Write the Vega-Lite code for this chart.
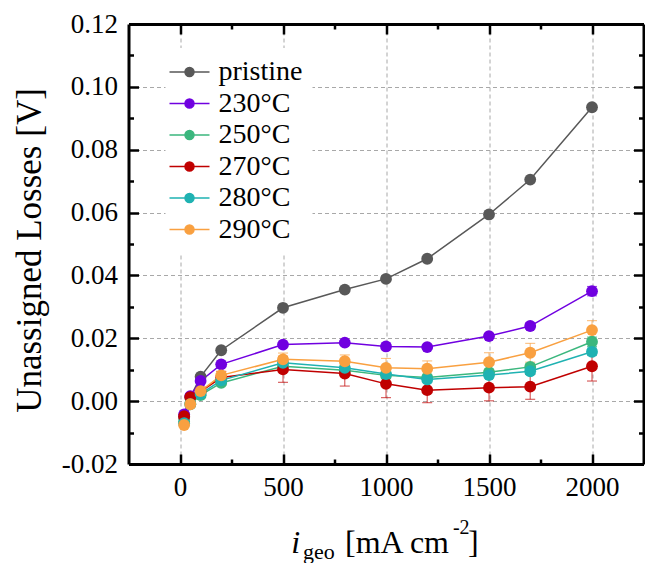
{
  "$schema": "https://vega.github.io/schema/vega-lite/v6.json",
  "width": 515,
  "height": 440,
  "autosize": "none",
  "padding": {"left": 128.5, "top": 24, "right": 1.5, "bottom": 99},
  "config": {
    "view": {"stroke": null},
    "font": "Liberation Serif, Times New Roman, serif",
    "axis": {"labelFont": "Liberation Serif, Times New Roman, serif", "titleFont": "Liberation Serif, Times New Roman, serif"},
    "legend": {"labelFont": "Liberation Serif, Times New Roman, serif", "titleFont": "Liberation Serif, Times New Roman, serif"},
    "text": {"font": "Liberation Serif, Times New Roman, serif"},
    "style": {
      "guide-label": {"font": "Liberation Serif, Times New Roman, serif"},
      "guide-title": {"font": "Liberation Serif, Times New Roman, serif"}
    }
  },
  "datasets": {
    "series": [
      {"s": "pristine", "i": 20, "v": -0.0052, "e": 0.0005},
      {"s": "pristine", "i": 50, "v": 0.0012, "e": 0.0005},
      {"s": "pristine", "i": 100, "v": 0.0078, "e": 0.0005},
      {"s": "pristine", "i": 200, "v": 0.0162, "e": 0.0005},
      {"s": "pristine", "i": 500, "v": 0.0297, "e": 0.0005},
      {"s": "pristine", "i": 800, "v": 0.0355, "e": 0.0005},
      {"s": "pristine", "i": 1000, "v": 0.0389, "e": 0.0005},
      {"s": "pristine", "i": 1200, "v": 0.0453, "e": 0.0005},
      {"s": "pristine", "i": 1500, "v": 0.0594, "e": 0.0005},
      {"s": "pristine", "i": 1700, "v": 0.0705, "e": 0.0005},
      {"s": "pristine", "i": 2000, "v": 0.0935, "e": 0.0005},
      {"s": "230°C", "i": 20, "v": -0.0042, "e": 0.0005},
      {"s": "230°C", "i": 50, "v": 0.0016, "e": 0.0005},
      {"s": "230°C", "i": 100, "v": 0.0064, "e": 0.0005},
      {"s": "230°C", "i": 200, "v": 0.0117, "e": 0.0005},
      {"s": "230°C", "i": 500, "v": 0.018, "e": 0.0006},
      {"s": "230°C", "i": 800, "v": 0.0186, "e": 0.0006},
      {"s": "230°C", "i": 1000, "v": 0.0174, "e": 0.0006},
      {"s": "230°C", "i": 1200, "v": 0.0172, "e": 0.0006},
      {"s": "230°C", "i": 1500, "v": 0.0207, "e": 0.0008},
      {"s": "230°C", "i": 1700, "v": 0.0239, "e": 0.001},
      {"s": "230°C", "i": 2000, "v": 0.035, "e": 0.0015},
      {"s": "250°C", "i": 20, "v": -0.0065, "e": 0.0005},
      {"s": "250°C", "i": 50, "v": -0.0008, "e": 0.0005},
      {"s": "250°C", "i": 100, "v": 0.0019, "e": 0.0005},
      {"s": "250°C", "i": 200, "v": 0.0058, "e": 0.0008},
      {"s": "250°C", "i": 500, "v": 0.0111, "e": 0.001},
      {"s": "250°C", "i": 800, "v": 0.0098, "e": 0.001},
      {"s": "250°C", "i": 1000, "v": 0.0082, "e": 0.001},
      {"s": "250°C", "i": 1200, "v": 0.0075, "e": 0.001},
      {"s": "250°C", "i": 1500, "v": 0.0092, "e": 0.001},
      {"s": "250°C", "i": 1700, "v": 0.0109, "e": 0.001},
      {"s": "250°C", "i": 2000, "v": 0.0189, "e": 0.0015},
      {"s": "270°C", "i": 20, "v": -0.0048, "e": 0.001},
      {"s": "270°C", "i": 50, "v": 0.0013, "e": 0.001},
      {"s": "270°C", "i": 100, "v": 0.003, "e": 0.0015},
      {"s": "270°C", "i": 200, "v": 0.0075, "e": 0.002},
      {"s": "270°C", "i": 500, "v": 0.0101, "e": 0.0041},
      {"s": "270°C", "i": 800, "v": 0.0088, "e": 0.004},
      {"s": "270°C", "i": 1000, "v": 0.0055, "e": 0.0044},
      {"s": "270°C", "i": 1200, "v": 0.0035, "e": 0.004},
      {"s": "270°C", "i": 1500, "v": 0.0043, "e": 0.0042},
      {"s": "270°C", "i": 1700, "v": 0.0046, "e": 0.004},
      {"s": "270°C", "i": 2000, "v": 0.0111, "e": 0.0047},
      {"s": "280°C", "i": 20, "v": -0.007, "e": 0.0005},
      {"s": "280°C", "i": 50, "v": -0.001, "e": 0.0005},
      {"s": "280°C", "i": 100, "v": 0.0023, "e": 0.0005},
      {"s": "280°C", "i": 200, "v": 0.0066, "e": 0.0008},
      {"s": "280°C", "i": 500, "v": 0.0122, "e": 0.001},
      {"s": "280°C", "i": 800, "v": 0.0106, "e": 0.001},
      {"s": "280°C", "i": 1000, "v": 0.0086, "e": 0.001},
      {"s": "280°C", "i": 1200, "v": 0.0069, "e": 0.001},
      {"s": "280°C", "i": 1500, "v": 0.0083, "e": 0.001},
      {"s": "280°C", "i": 1700, "v": 0.0095, "e": 0.001},
      {"s": "280°C", "i": 2000, "v": 0.0157, "e": 0.0012},
      {"s": "290°C", "i": 20, "v": -0.0076, "e": 0.0005},
      {"s": "290°C", "i": 50, "v": -0.001, "e": 0.0008},
      {"s": "290°C", "i": 100, "v": 0.0032, "e": 0.001},
      {"s": "290°C", "i": 200, "v": 0.0082, "e": 0.0012},
      {"s": "290°C", "i": 500, "v": 0.0133, "e": 0.002},
      {"s": "290°C", "i": 800, "v": 0.0127, "e": 0.002},
      {"s": "290°C", "i": 1000, "v": 0.0106, "e": 0.003},
      {"s": "290°C", "i": 1200, "v": 0.0103, "e": 0.0025},
      {"s": "290°C", "i": 1500, "v": 0.0124, "e": 0.003},
      {"s": "290°C", "i": 1700, "v": 0.0154, "e": 0.003},
      {"s": "290°C", "i": 2000, "v": 0.0226, "e": 0.003}
    ]
  },
  "resolve": {"axis": {"x": "independent", "y": "independent"}},
  "layer": [
    {
      "data": {"name": "series"},
      "mark": {"type": "errorbar", "ticks": true, "size": 10, "thickness": 1, "opacity": 0.75},
      "encoding": {
        "x": {"field": "i", "type": "quantitative", "axis": null,
              "scale": {"domain": [-250, 2250], "nice": false, "zero": false}},
        "y": {"field": "v", "type": "quantitative", "axis": null,
              "scale": {"domain": [-0.02, 0.12], "nice": false, "zero": false}},
        "yError": {"field": "e"},
        "color": {"field": "s", "type": "nominal",
                  "scale": {"domain": ["pristine", "230°C", "250°C", "270°C", "280°C", "290°C"],
                            "range": ["#585858", "#7000E0", "#3BB77E", "#C00000", "#1FB2B2", "#F9A040"]}}
      }
    },
    {
      "data": {"name": "series"},
      "mark": {"type": "line", "strokeWidth": 1.5},
      "encoding": {
        "x": {"field": "i", "type": "quantitative",
              "scale": {"domain": [-250, 2250], "nice": false, "zero": false},
              "axis": {
                "orient": "bottom",
                "values": [0, 250, 500, 750, 1000, 1250, 1500, 1750, 2000],
                "labelExpr": "datum.value % 500 === 0 ? datum.label : ''",
                "format": "d",
                "labelFont": "Liberation Serif, Times New Roman, serif", "labelFontSize": 27, "labelColor": "black",
                "labelPadding": 20, "labelFlush": false,
                "tickColor": "black", "tickWidth": 2.5,
                "tickSize": {"condition": {"test": "datum.value % 500 === 0", "value": -10}, "value": -5},
                "domainColor": "black", "domainWidth": 3,
                "grid": true, "gridColor": "#a8a8a8", "gridDash": [4, 3], "gridWidth": 1,
                "gridOpacity": {"condition": {"test": "datum.value % 500 === 0", "value": 1}, "value": 0},
                "title": null
              }},
        "y": {"field": "v", "type": "quantitative",
              "scale": {"domain": [-0.02, 0.12], "nice": false, "zero": false},
              "axis": {
                "orient": "left",
                "values": [-0.02, -0.01, 0, 0.01, 0.02, 0.03, 0.04, 0.05, 0.06, 0.07, 0.08, 0.09, 0.1, 0.11, 0.12],
                "labelExpr": "abs(round(datum.value * 100)) % 2 === 0 ? replace(format(datum.value, '.2f'), '\u2212', '-') : ''",
                "labelFont": "Liberation Serif, Times New Roman, serif", "labelFontSize": 27, "labelColor": "black",
                "labelPadding": 21, "labelFlush": false,
                "tickColor": "black", "tickWidth": 2.5,
                "tickSize": {"condition": {"test": "abs(round(datum.value * 100)) % 2 === 0", "value": -10}, "value": -5},
                "domainColor": "black", "domainWidth": 3,
                "grid": true, "gridColor": "#a8a8a8", "gridDash": [4, 3], "gridWidth": 1,
                "gridOpacity": {"condition": {"test": "abs(round(datum.value * 100)) % 2 === 0 && datum.value > -0.015 && datum.value < 0.115", "value": 1}, "value": 0},
                "title": "Unassigned Losses [V]",
                "titleFont": "Liberation Serif, Times New Roman, serif", "titleFontSize": 35, "titleFontWeight": "normal", "titleColor": "black",
                "titleAngle": 270, "titleAlign": "center", "titleBaseline": "alphabetic",
                "titleX": -88, "titleY": 226
              }},
        "color": {"field": "s", "type": "nominal",
                  "scale": {"domain": ["pristine", "230°C", "250°C", "270°C", "280°C", "290°C"],
                            "range": ["#585858", "#7000E0", "#3BB77E", "#C00000", "#1FB2B2", "#F9A040"]},
                  "legend": {
                    "title": null,
                    "orient": "none",
                    "legendX": 37,
                    "legendY": 24,
                    "padding": 10,
                    "fillColor": "white",
                    "symbolType": "M-2,0H2M-0.45,0A0.45,0.45,0,1,1,0.45,0A0.45,0.45,0,1,1,-0.45,0Z",
                    "symbolSize": 400,
                    "symbolStrokeWidth": 1.5,
                    "labelFont": "Liberation Serif, Times New Roman, serif", "labelFontSize": 28, "labelColor": "black",
                    "labelOffset": 15,
                    "rowPadding": 3.5,
                    "encode": {
                      "symbols": {"update": {
                        "fill": {"scale": "color", "field": "value"},
                        "stroke": {"scale": "color", "field": "value"},
                        "strokeWidth": {"value": 1.5},
                        "opacity": {"value": 1}
                      }}
                    }
                  }}
      }
    },
    {
      "data": {"name": "series"},
      "mark": {"type": "circle", "size": 140, "opacity": 1},
      "encoding": {
        "x": {"field": "i", "type": "quantitative",
              "scale": {"domain": [-250, 2250], "nice": false, "zero": false},
              "axis": {
                "orient": "top",
                "values": [0, 250, 500, 750, 1000, 1250, 1500, 1750, 2000],
                "labels": false, "grid": false, "title": null,
                "tickColor": "black", "tickWidth": 2.5,
                "tickSize": {"condition": {"test": "datum.value % 500 === 0", "value": -10}, "value": -5},
                "domainColor": "black", "domainWidth": 3
              }},
        "y": {"field": "v", "type": "quantitative",
              "scale": {"domain": [-0.02, 0.12], "nice": false, "zero": false},
              "axis": {
                "orient": "right",
                "values": [-0.02, -0.01, 0, 0.01, 0.02, 0.03, 0.04, 0.05, 0.06, 0.07, 0.08, 0.09, 0.1, 0.11, 0.12],
                "labels": false, "grid": false, "title": null,
                "tickColor": "black", "tickWidth": 2.5,
                "tickSize": {"condition": {"test": "abs(round(datum.value * 100)) % 2 === 0", "value": -10}, "value": -5},
                "domainColor": "black", "domainWidth": 3
              }},
        "color": {"field": "s", "type": "nominal",
                  "scale": {"domain": ["pristine", "230°C", "250°C", "270°C", "280°C", "290°C"],
                            "range": ["#585858", "#7000E0", "#3BB77E", "#C00000", "#1FB2B2", "#F9A040"]}}
      }
    },
    {
      "data": {"values": [{}]},
      "mark": {"type": "text", "text": "i", "font": "Liberation Serif, Times New Roman, serif", "fontStyle": "italic", "fontSize": 32,
               "align": "left", "baseline": "alphabetic", "color": "black"},
      "encoding": {
        "x": {"datum": 540, "type": "quantitative", "axis": null},
        "y": {"datum": -0.0483, "type": "quantitative", "axis": null}
      }
    },
    {
      "data": {"values": [{}]},
      "mark": {"type": "text", "text": "geo", "font": "Liberation Serif, Times New Roman, serif", "fontSize": 22,
               "align": "left", "baseline": "alphabetic", "color": "black"},
      "encoding": {
        "x": {"datum": 597, "type": "quantitative", "axis": null},
        "y": {"datum": -0.0502, "type": "quantitative", "axis": null}
      }
    },
    {
      "data": {"values": [{}]},
      "mark": {"type": "text", "text": "[mA cm", "font": "Liberation Serif, Times New Roman, serif", "fontSize": 32,
               "align": "left", "baseline": "alphabetic", "color": "black"},
      "encoding": {
        "x": {"datum": 801, "type": "quantitative", "axis": null},
        "y": {"datum": -0.0483, "type": "quantitative", "axis": null}
      }
    },
    {
      "data": {"values": [{}]},
      "mark": {"type": "text", "text": "-2", "font": "Liberation Serif, Times New Roman, serif", "fontSize": 20,
               "align": "left", "baseline": "alphabetic", "color": "black"},
      "encoding": {
        "x": {"datum": 1325, "type": "quantitative", "axis": null},
        "y": {"datum": -0.0423, "type": "quantitative", "axis": null}
      }
    },
    {
      "data": {"values": [{}]},
      "mark": {"type": "text", "text": "]", "font": "Liberation Serif, Times New Roman, serif", "fontSize": 32,
               "align": "left", "baseline": "alphabetic", "color": "black"},
      "encoding": {
        "x": {"datum": 1398, "type": "quantitative", "axis": null},
        "y": {"datum": -0.0483, "type": "quantitative", "axis": null}
      }
    }
  ]
}
